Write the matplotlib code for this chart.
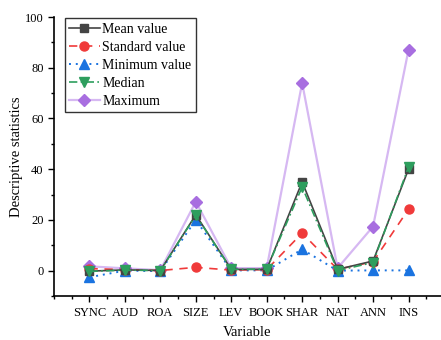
import matplotlib.pyplot as plt
from matplotlib.ticker import MultipleLocator

plt.rcParams["font.family"] = ["Liberation Serif", "DejaVu Serif"]

variables = ["SYNC", "AUD", "ROA", "SIZE", "LEV", "BOOK", "SHAR", "NAT", "ANN", "INS"]
mean_vals = [-0.2, 0.3, 0.05, 22.0, 0.5, 0.5, 35.0, 0.5, 3.8, 40.0]
std_vals = [0.8, 0.4, 0.05, 1.3, 0.2, 0.4, 14.8, 0.5, 3.5, 24.2]
min_vals = [-2.6, 0.0, -0.2, 20.0, 0.1, 0.1, 8.4, 0.0, 0.1, 0.1]
median_vals = [-0.3, 0.2, 0.04, 21.8, 0.5, 0.6, 33.0, 0.0, 3.2, 40.8]
max_vals = [1.7, 0.9, 0.2, 27.2, 1.0, 1.0, 74.0, 1.0, 17.4, 87.0]

x = list(range(1, len(variables) + 1))

fig = plt.figure(figsize=(4.41, 3.40), dpi=100)
ax = fig.add_axes([54 / 441, 44 / 340, 387 / 441, 279 / 340])

ax.plot(x, mean_vals, color="#444444", linestyle="-", linewidth=1.2,
        marker="s", markersize=6, label="Mean value", zorder=5)
ax.plot(x, std_vals, color="#f03a3a", linestyle=(0, (5, 4)), linewidth=1.2,
        marker="o", markersize=6.5, label="Standard value", zorder=4)
ax.plot(x, min_vals, color="#1a73e0", linestyle=(0, (1, 2.5)), linewidth=1.4,
        marker="^", markersize=7, label="Minimum value", zorder=3)
ax.plot(x, median_vals, color="#2e9e5e", linestyle=(0, (5, 2, 1, 2)), linewidth=1.2,
        marker="v", markersize=7, label="Median", zorder=6)
ax.plot(x, max_vals, color="#d6b8f2", linestyle="-", linewidth=1.6,
        marker="D", markersize=6, markerfacecolor="#a86ee0", markeredgecolor="#a86ee0",
        label="Maximum", zorder=2)

ax.set_xlim(0, 387 / 35.45)
ax.set_ylim(-10, 100)
ax.set_xticks(x)
ax.set_xticklabels(variables)
ax.xaxis.set_minor_locator(MultipleLocator(0.5))
ax.yaxis.set_major_locator(MultipleLocator(20))
ax.yaxis.set_minor_locator(MultipleLocator(10))
ax.tick_params(which="major", direction="out", length=4, width=1, labelsize=9)
ax.tick_params(which="minor", direction="out", length=2.5, width=1)
ax.tick_params(axis="x", pad=4)

ax.spines["top"].set_visible(False)
ax.spines["right"].set_visible(False)
ax.spines["left"].set_linewidth(1.2)
ax.spines["bottom"].set_linewidth(1.2)

ax.set_xlabel("Variable", fontsize=10.5, labelpad=5)
ax.set_ylabel("Descriptive statistics", fontsize=10.5, labelpad=1)

leg = ax.legend(loc="upper left", bbox_to_anchor=(0.028, 0.995), fontsize=10,
                frameon=True, fancybox=False, edgecolor="black",
                handlelength=2.2, handletextpad=0.2, borderpad=0.3,
                labelspacing=0.36, borderaxespad=0.0)
leg.get_frame().set_linewidth(1.0)

fig.savefig("out.png", dpi=100)
